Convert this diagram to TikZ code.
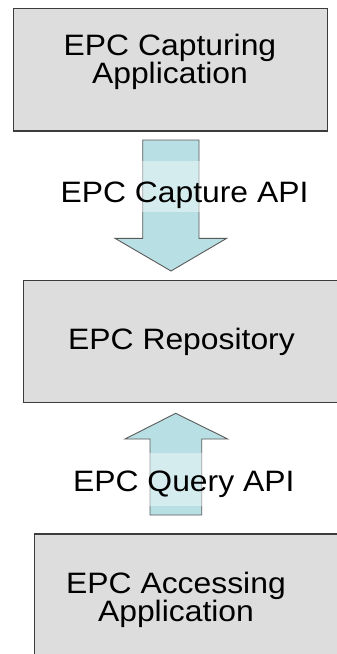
\documentclass[tikz,border=0pt]{standalone}
\usepackage{fontspec}
\setmainfont{Liberation Sans}[FakeStretch=1.08]
\definecolor{boxfill}{HTML}{DDDDDD}
\definecolor{boxline}{HTML}{3C3C3C}
\definecolor{arrfill}{HTML}{B8DFE3}
\definecolor{arrline}{HTML}{5A5A5A}
\tikzset{
  appbox/.style={draw=boxline, fill=boxfill, line width=1.2pt, inner sep=0pt},
  blockarrow/.style={draw=arrline, fill=arrfill, line width=0.9pt, line join=miter},
  boxtext/.style={font=\fontsize{29.5}{28.5}\selectfont, align=center, inner sep=0pt},
  apilabel/.style={font=\fontsize{29.5}{29}\selectfont, fill=white, fill opacity=0.42,
    text opacity=1, inner ysep=0pt, inner xsep=2pt}
}
\begin{document}
\begin{tikzpicture}[x=1pt, y=-1pt]
  \useasboundingbox (0,0) rectangle (337,654);
  \clip (0,0) rectangle (337,654);
  \fill[white] (0,0) rectangle (337,654);

  % application and repository boxes
  \node[appbox, minimum width=314pt, minimum height=122.5pt] (capapp) at (170.5,69.75) {};
  \node[appbox, minimum width=321.7pt, minimum height=122pt] (repo) at (184.15,341.7) {};
  \node[appbox, minimum width=310.7pt, minimum height=136pt] (accapp) at (189.65,602) {};

  % multi-line texts are anchored at the baseline of their last line
  \node[boxtext, anchor=base] (capapptext) at (170,83.5) {EPC Capturing\\Application};
  \node[boxtext, anchor=base] (repotext) at (181.5,349) {EPC Repository};
  \node[boxtext, anchor=base] (accapptext) at (176,621.5) {EPC Accessing\\Application};

  % capture interface: block arrow pointing down
  \draw[blockarrow] (142.7,140) -- (199,140) -- (199,238.3) -- (226.7,238.3)
    -- (171,271) -- (115,238.3) -- (142.7,238.3) -- cycle;
  % query interface: block arrow pointing up
  \draw[blockarrow] (150,515) -- (201.7,515) -- (201.7,439) -- (227.7,439)
    -- (175.7,413.3) -- (125,439) -- (150,439) -- cycle;

  \node[apilabel, anchor=base, text height=41pt, text depth=9.5pt] (capapi) at (184.5,202) {EPC Capture API};
  \node[apilabel, anchor=base, text height=38pt, text depth=15pt] (qryapi) at (183.8,491) {EPC Query API};
\end{tikzpicture}
\end{document}
